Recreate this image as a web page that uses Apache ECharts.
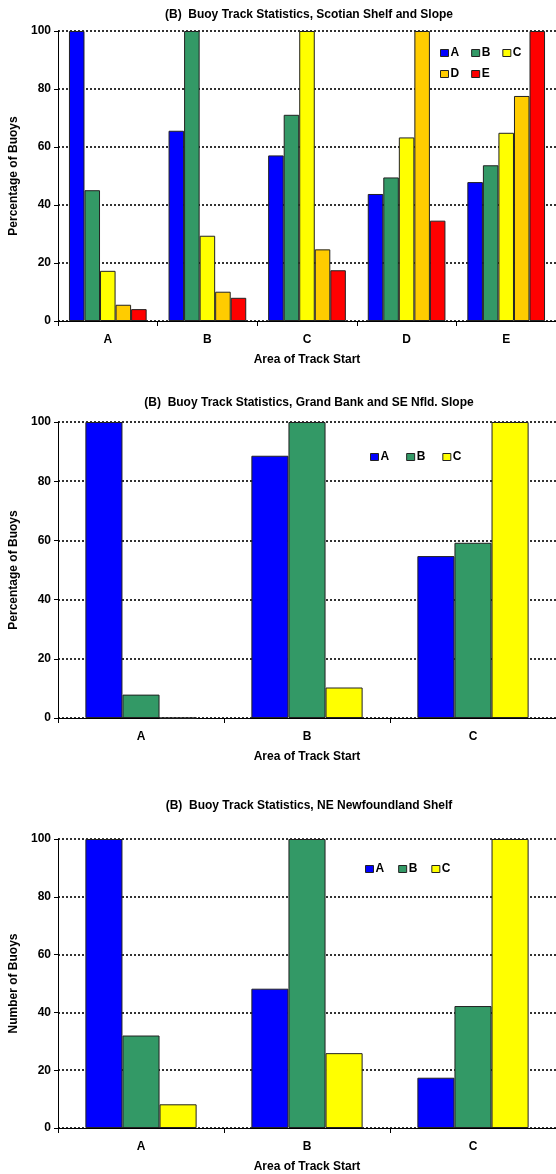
<!DOCTYPE html>
<html>
<head>
<meta charset="utf-8">
<script src="https://cdn.jsdelivr.net/npm/echarts@6/dist/echarts.min.js"></script>
<style>
  html, body { margin: 0; padding: 0; background: #fff; }
  #chart { width: 556px; height: 1174px; }
</style>
</head>
<body>
<div id="chart"></div>
<script>
// Panel 1: Scotian Shelf and Slope
const scotianCats = ['A', 'B', 'C', 'D', 'E'];
const scotianA = [100, 65.6, 57.1, 43.8, 47.9];
const scotianB = [45.1, 100, 71.1, 49.5, 53.7];
const scotianC = [17.3, 29.4, 100, 63.3, 64.9];
const scotianD = [5.6, 10.1, 24.7, 100, 77.6];
const scotianE = [4.1, 8.0, 17.5, 34.6, 100];

// Panel 2: Grand Bank and SE Nfld. Slope
const grandCats = ['A', 'B', 'C'];
const grandA = [100, 88.6, 54.7];
const grandB = [7.9, 100, 59.2];
const grandC = [0, 10.3, 100];

// Panel 3: NE Newfoundland Shelf
const neCats = ['A', 'B', 'C'];
const neA = [100, 48.2, 17.4];
const neB = [32.0, 100, 42.2];
const neC = [8.2, 25.9, 100];

// Value axis ticks (shared by all panels)
const yMin = 0, yMax = 100, yStep = 20;

const titles = [
  '(B)  Buoy Track Statistics, Scotian Shelf and Slope',
  '(B)  Buoy Track Statistics, Grand Bank and SE Nfld. Slope',
  '(B)  Buoy Track Statistics, NE Newfoundland Shelf'
];
const yNames = ['Percentage of Buoys', 'Percentage of Buoys', 'Number of Buoys'];
const xName = 'Area of Track Start';

const colors = { A: '#0000FF', B: '#339966', C: '#FFFF00', D: '#FFCC00', E: '#FF0000' };
const FONT = '"Liberation Sans", Arial, sans-serif';
const FS = 12;

const grids = [
  { left: 57, right: 0, top: 31, height: 290 },
  { left: 57, right: 0, top: 422, height: 296 },
  { left: 57, right: 0, top: 839, height: 290 }
];

function xAxisFor(i, cats) {
  return {
    type: 'category', gridIndex: i, data: cats,
    axisLine: { lineStyle: { color: '#000', width: 1 } },
    axisTick: { show: true, length: 5, lineStyle: { color: '#000' } },
    axisLabel: { color: '#000', fontFamily: FONT, fontWeight: 'bold', fontSize: FS, margin: 13 },
    name: xName, nameLocation: 'middle', nameGap: 33,
    nameTextStyle: { color: '#000', fontFamily: FONT, fontWeight: 'bold', fontSize: FS }
  };
}
function yAxisFor(i) {
  return {
    type: 'value', gridIndex: i, min: yMin, max: yMax, interval: yStep,
    axisLine: { show: true, lineStyle: { color: '#000', width: 1 } },
    axisTick: { show: true, length: 4, lineStyle: { color: '#000' } },
    axisLabel: { color: '#000', fontFamily: FONT, fontWeight: 'bold', fontSize: FS, margin: 7 },
    splitLine: { show: true, lineStyle: { color: '#000', width: 1.6, type: [2, 2] } },
    name: yNames[i], nameLocation: 'middle', nameGap: 38, nameRotate: 90,
    nameTextStyle: { color: '#000', fontFamily: FONT, fontWeight: 'bold', fontSize: FS }
  };
}
function bar(name, data, i, catGap) {
  return {
    name: name, type: 'bar', xAxisIndex: i, yAxisIndex: i, data: data,
    barGap: '0%', barCategoryGap: catGap,
    itemStyle: { color: colors[name], borderColor: '#222', borderWidth: 1 },
    emphasis: { disabled: true }
  };
}
function legend(names, left, top, gap) {
  return {
    data: names, left: left, top: top, orient: 'horizontal',
    icon: 'rect', itemWidth: 8, itemHeight: 7, itemGap: gap,
    selectedMode: false,
    textStyle: { color: '#000', fontFamily: FONT, fontWeight: 'bold', fontSize: FS, padding: [0, 0, 0, -3] },
    itemStyle: { borderColor: '#222', borderWidth: 1 }
  };
}

const chart = echarts.init(document.getElementById('chart'));
chart.setOption({
  animation: false,
  backgroundColor: '#fff',
  title: titles.map((t, i) => ({
    text: t, left: 304, textAlign: 'center', top: [4, 392, 795][i],
    textStyle: { color: '#000', fontFamily: FONT, fontWeight: 'bold', fontSize: FS }
  })),
  legend: [
    legend(['A', 'B', 'C'], 435, 42, 12),
    legend(['D', 'E'], 435, 63, 12),
    legend(['A', 'B', 'C'], 365, 446, 17),
    legend(['A', 'B', 'C'], 360, 858, 14)
  ],
  grid: grids,
  xAxis: [xAxisFor(0, scotianCats), xAxisFor(1, grandCats), xAxisFor(2, neCats)],
  yAxis: [yAxisFor(0), yAxisFor(1), yAxisFor(2)],
  series: [
    bar('A', scotianA, 0, '22%'), bar('B', scotianB, 0, '22%'), bar('C', scotianC, 0, '22%'),
    bar('D', scotianD, 0, '22%'), bar('E', scotianE, 0, '22%'),
    bar('A', grandA, 1, '33%'), bar('B', grandB, 1, '33%'), bar('C', grandC, 1, '33%'),
    bar('A', neA, 2, '33%'), bar('B', neB, 2, '33%'), bar('C', neC, 2, '33%')
  ]
});
</script>
</body>
</html>
